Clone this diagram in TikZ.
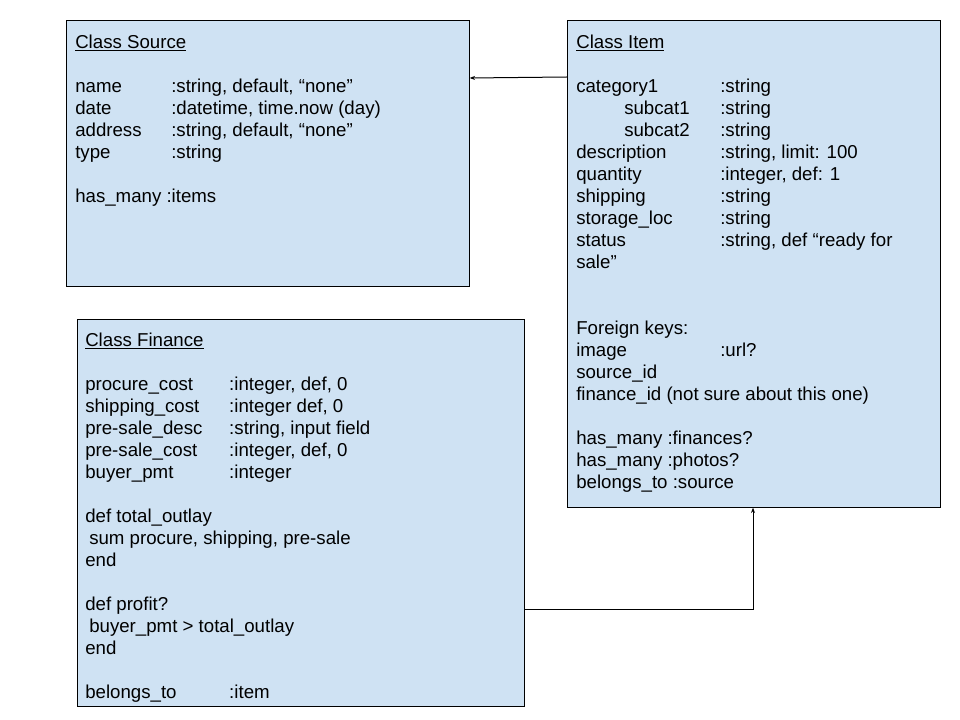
\documentclass[tikz,border=0pt]{standalone}
\usepackage{fontspec}
\setmainfont{Liberation Sans}
\usepackage{tikz}
\usetikzlibrary{calc,arrows.meta}

\definecolor{boxblue}{HTML}{CFE2F3}

% a field of a class: name in a column of fixed width, then its type
\newcommand{\clsfield}[3]{\makebox[#1][l]{#2}#3}

\begin{document}
\begin{tikzpicture}[x=0.75pt,y=-0.75pt,
  classbox/.style={draw, fill=boxblue, line width=0.75pt, anchor=north west,
                   inner sep=0pt},
  classtext/.style={anchor=north west, align=left, inner sep=0pt,
                    font=\fontsize{14}{16.5}\selectfont},
  link/.style={line width=0.75pt, -{Stealth[length=4pt,width=3pt]}}]

\useasboundingbox (0,0) rectangle (960,720);

% Corners of the three class boxes (in pixels of the sheet)
\coordinate (S) at (66,20);
\coordinate (I) at (567,20);
\coordinate (F) at (77,319);

% The boxes
\node[classbox, minimum width=302pt, minimum height=199.5pt] (source)  at (S) {};
\node[classbox, minimum width=280pt, minimum height=365pt]   (item)    at (I) {};
\node[classbox, minimum width=335pt, minimum height=290pt]   (finance) at (F) {};

% Class Source
\node[classtext] (sourcetxt) at (75,34.5)
  {\underline{Class Source}\\
   ~\\
   \clsfield{72pt}{name}{:string, default, “none”}\\
   \clsfield{72pt}{date}{:datetime, time.now (day)}\\
   \clsfield{72pt}{address}{:string, default, “none”}\\
   \clsfield{72pt}{type}{:string}\\
   ~\\
   has\_many :items};

% Class Item
\node[classtext] (itemtxt) at (576,34.5)
  {\underline{Class Item}\\
   ~\\
   \clsfield{108pt}{category1}{:string}\\
   \clsfield{108pt}{\hspace{36pt}subcat1}{:string}\\
   \clsfield{108pt}{\hspace{36pt}subcat2}{:string}\\
   \clsfield{108pt}{description}{:string, limit: 100}\\
   \clsfield{108pt}{quantity}{:integer, def: 1}\\
   \clsfield{108pt}{shipping}{:string}\\
   \clsfield{108pt}{storage\_loc}{:string}\\
   \clsfield{108pt}{status}{:string, def “ready for}\\
   sale”\\
   ~\\
   ~\\
   Foreign keys:\\
   \clsfield{108pt}{image}{:url?}\\
   source\_id\\
   finance\_id (not sure about this one)\\
   ~\\
   has\_many :finances?\\
   has\_many :photos?\\
   belongs\_to :source};

% Class Finance
\node[classtext] (financetxt) at (85,332.5)
  {\underline{Class Finance}\\
   ~\\
   \clsfield{108pt}{procure\_cost}{:integer, def, 0}\\
   \clsfield{108pt}{shipping\_cost}{:integer def, 0}\\
   \clsfield{108pt}{pre-sale\_desc}{:string, input field}\\
   \clsfield{108pt}{pre-sale\_cost}{:integer, def, 0}\\
   \clsfield{108pt}{buyer\_pmt}{:integer}\\
   ~\\
   def total\_outlay\\
   \hspace{3pt}sum procure, shipping, pre-sale\\
   end\\
   ~\\
   def profit?\\
   \hspace{3pt}buyer\_pmt > total\_outlay\\
   end\\
   ~\\
   \clsfield{108pt}{belongs\_to}{:item}};

% Connectors
\draw[link] ($(item.north west)+(0,57)$) -- ($(source.north east)+(0,58)$);
\draw[link] ($(finance.north east)+(0,290)$) -| ($(item.south west)+(186,0)$);
\end{tikzpicture}
\end{document}
